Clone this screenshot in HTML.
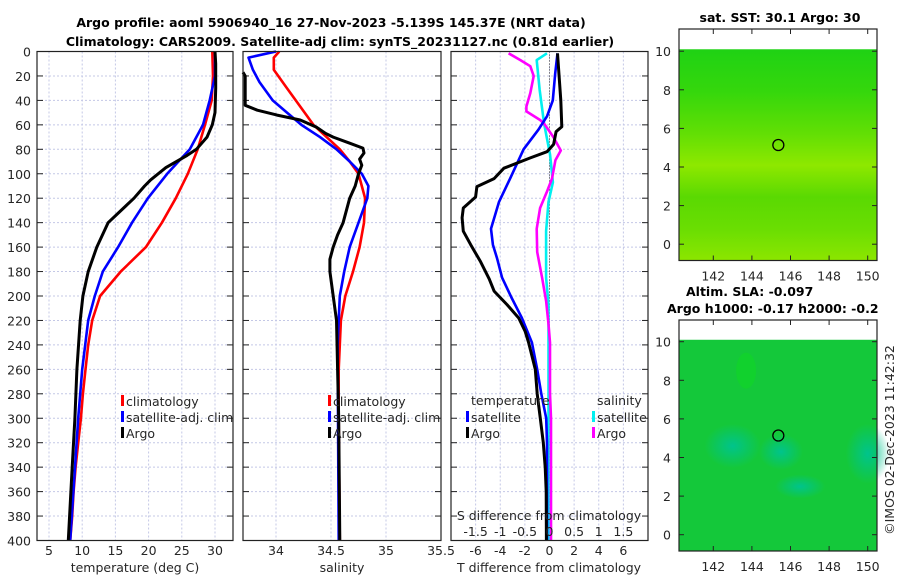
<!DOCTYPE html>
<html><head><meta charset="utf-8"><style>
body{margin:0;background:#fff}
svg{display:block;font-family:"DejaVu Sans","Liberation Sans",sans-serif}
.t{font-size:12.5px;fill:#262626}
.b{font-size:12.5px;font-weight:bold;fill:#000}
</style></head><body>
<svg id="c" width="900" height="580" viewBox="0 0 900 580">
<defs>
<linearGradient id="sstg" x1="0" y1="0" x2="0" y2="1">
<stop offset="0" stop-color="#1fd214"/><stop offset="0.2" stop-color="#35d70c"/>
<stop offset="0.4" stop-color="#62df04"/><stop offset="0.55" stop-color="#8ee800"/>
<stop offset="0.7" stop-color="#5ad902"/><stop offset="0.85" stop-color="#6ade02"/>
<stop offset="1" stop-color="#8ce600"/></linearGradient>
<radialGradient id="teal"><stop offset="0" stop-color="#00c48c"/><stop offset="1" stop-color="#00c48c" stop-opacity="0"/></radialGradient>
</defs>
<text class="b" x="331" y="27" text-anchor="middle">Argo profile: aoml 5906940_16 27-Nov-2023 -5.139S 145.37E (NRT data)</text>
<text class="b" x="340" y="46" text-anchor="middle">Climatology: CARS2009. Satellite-adj clim: synTS_20231127.nc (0.81d earlier)</text>
<g id="plots"></g>
</svg>
<script>
// ---- data ----
const depthTicks=[0,20,40,60,80,100,120,140,160,180,200,220,240,260,280,300,320,340,360,380,400];
const tempTicks=[5,10,15,20,25,30];
const salTicks=[34,34.5,35,35.5];
const dTTicks=[-6,-4,-2,0,2,4,6];
const dSTicks=[-1.5,-1,-0.5,0,0.5,1,1.5];
const tClimD=[0,20,40,60,80,100,120,140,160,180,200,220,240,260,280,300,320,340,360,380,400];
const tClimV=[29.6,29.7,29.5,28.5,27.4,25.9,24.1,22,19.6,15.8,12.7,11.5,10.9,10.5,10.1,9.8,9.4,9.0,8.7,8.5,8.2];
const tSatD=[0,20,40,60,80,100,120,140,160,180,200,220,260,300,400];
const tSatV=[30,30,29.2,28.2,26.2,22.8,19.9,17.5,15.4,13.1,11.9,10.9,10,9.4,8.2];
const tArgoD=[0,10,30,50,60,70,80,85,95,105,110,120,140,160,180,200,220,260,300,340,400];
const tArgoV=[30,30.1,30.1,30.0,29.6,28.8,27.2,25.8,22.6,20.3,19.4,17.8,13.9,12.2,10.9,10.1,9.7,9.2,8.9,8.5,7.9];
const sClimD=[0,5,15,30,45,60,70,80,90,100,110,120,140,160,180,200,220,260,300,400];
const sClimV=[34.03,33.98,33.98,34.1,34.22,34.34,34.46,34.58,34.67,34.75,34.78,34.81,34.8,34.76,34.7,34.63,34.59,34.57,34.57,34.58];
const sSatD=[0,5,15,25,40,50,60,70,80,90,100,110,120,140,160,180,200,240,400];
const sSatV=[34.0,33.75,33.79,33.85,33.97,34.1,34.23,34.4,34.55,34.67,34.78,34.84,34.83,34.75,34.67,34.62,34.58,34.56,34.57];
const sArgoD=[17,20,44,48,52,56,62,67,70,75,79,83,88,93,100,110,120,140,150,160,170,180,200,220,260,300,400];
const sArgoV=[33.7,33.72,33.72,33.83,34.01,34.22,34.37,34.45,34.52,34.67,34.79,34.8,34.76,34.78,34.75,34.72,34.67,34.61,34.56,34.52,34.49,34.49,34.52,34.55,34.56,34.57,34.58];
const dTArgoD=[1.5,40,61.5,65.5,76,82,87,95.5,104,110.5,119,128,136,147,158,172,186,196,207,218,229,238,260,280,300,320,340,360,400];
const dTArgoV=[0.65,0.92,1.0,0.54,0.33,-0.2,-1.56,-3.7,-4.5,-5.9,-6.0,-7.0,-7.1,-7.0,-6.4,-5.6,-4.9,-4.5,-3.45,-2.5,-1.97,-1.7,-1.15,-1.0,-0.75,-0.5,-0.35,-0.27,-0.25];
const dTSatD=[1.5,18,40,53,64,80,104,123,145,158,169,185,202,218,238,260,280,300,320,400];
const dTSatV=[0.65,0.46,0.27,-0.2,-0.9,-2.1,-3.2,-4.1,-4.75,-4.6,-4.26,-3.85,-3.05,-2.24,-1.43,-1.0,-0.67,-0.27,-0.2,-0.2];
const dSArgoD=[1.5,7,12,20,34,45,49,56,59,70,81,89,104,114.5,128,145,164,185,204,223,238,280,300,400];
const dSArgoV=[-0.83,-0.59,-0.39,-0.32,-0.39,-0.47,-0.47,-0.19,-0.11,0.08,0.23,0.12,0.05,-0.05,-0.19,-0.26,-0.25,-0.15,-0.07,-0.02,0.01,0.01,0.03,0.03];
const dSSatD=[1.5,7,31,59,84,107,123,147,185,207,240,400];
const dSSatV=[-0.05,-0.26,-0.2,-0.11,0.01,0.07,-0.02,-0.07,-0.07,-0.02,-0.02,-0.02];
const mapXTicks=[142,144,146,148,150];
const mapYTicks=[0,2,4,6,8,10];
const argoLon=145.37, argoLat=5.139;
// ---- helpers ----
const NS='http://www.w3.org/2000/svg';
const root=document.getElementById('plots');
function mk(tag,at,parent){const e=document.createElementNS(NS,tag);for(const k in at)e.setAttribute(k,at[k]);(parent||root).appendChild(e);return e;}
function lin(d0,d1,r0,r1){return v=>r0+(v-d0)*(r1-r0)/(d1-d0);}
const Y0=51.5,Y1=540.5;
const yD=lin(0,400,Y0,Y1);
const panels=[
 {x0:37,x1:233,sx:lin(5,30,49,215),ticks:tempTicks,name:'temperature-panel'},
 {x0:243,x1:441,sx:lin(34,35,276,386),ticks:salTicks,name:'salinity-panel'},
 {x0:451,x1:648,sx:lin(-8,8,451,648),ticks:dTTicks,name:'difference-panel'}];
panels.forEach((p,i)=>{
 const g=mk('g',{});
 
 
 depthTicks.forEach(d=>{const l=mk('line',{x1:p.x0,x2:p.x1,y1:yD(d),y2:yD(d),stroke:'#c4c8e6','stroke-width':1,'stroke-dasharray':'2,2'},g);
  
  mk('line',{x1:p.x0,x2:p.x0+6,y1:yD(d),y2:yD(d),stroke:'#222'},g);mk('line',{x1:p.x1,x2:p.x1-6,y1:yD(d),y2:yD(d),stroke:'#222'},g);});
 p.ticks.forEach(t=>{const x=p.sx(t);if(x>p.x0+1&&x<p.x1-1){const l=mk('line',{x1:x,x2:x,y1:Y0,y2:Y1,stroke:'#c4c8e6','stroke-dasharray':'2,2'},g);
  }
  const tl=mk('text',{x:x,y:555,'text-anchor':'middle',class:'t'},g);tl.textContent=String(t);
  });
 p.g=g;
});
depthTicks.forEach(d=>{const t=mk('text',{x:31,y:yD(d)+5,'text-anchor':'end',class:'t'});t.textContent=d;
 });
function series(p,D,V,col,name,w){const pts=D.map((d,i)=>p.sx(V[i]).toFixed(1)+','+yD(d).toFixed(1)).join(' ');
 const l=mk('polyline',{points:pts,fill:'none',stroke:col,'stroke-width':w||2.6,'stroke-linejoin':'round'});
 }
const P3S=lin(-2,2,451,648);
mk('line',{x1:P3S(0),x2:P3S(0),y1:Y0,y2:Y1,stroke:'#333','stroke-dasharray':'1,2'});
series(panels[0],tClimD,tClimV,'#ff0000','temp-climatology-line');
series(panels[0],tSatD,tSatV,'#0000ff','temp-satellite-line');
series(panels[0],tArgoD,tArgoV,'#000','temp-argo-line',3);
series(panels[1],sClimD,sClimV,'#ff0000','sal-climatology-line');
series(panels[1],sSatD,sSatV,'#0000ff','sal-satellite-line');
series(panels[1],sArgoD,sArgoV,'#000','sal-argo-line',3);
const p3s={sx:P3S};
series(p3s,dSSatD,dSSatV,'#00f0f0','s-diff-satellite-line');
series(p3s,dSArgoD,dSArgoV,'#ff00ff','s-diff-argo-line');
series(panels[2],dTSatD,dTSatV,'#0000ff','t-diff-satellite-line');
series(panels[2],dTArgoD,dTArgoV,'#000','t-diff-argo-line',3);
panels.forEach(p=>{const r=mk('rect',{x:p.x0,y:Y0,width:p.x1-p.x0,height:Y1-Y0,fill:'none',stroke:'#222','stroke-width':1.2});
 });
dSTicks.forEach(t=>{const tl=mk('text',{x:P3S(t),y:536,'text-anchor':'middle',class:'t'});tl.textContent=String(t);
 });
function lbl(x,y,s,name,anchor,extra){const t=mk('text',Object.assign({x:x,y:y,'text-anchor':anchor||'start',class:'t'},extra||{}));t.textContent=s;
 return t;}
lbl(549,520,'S difference from climatology','s-diff-axis-title','middle');
lbl(135,572,'temperature (deg C)','temp-axis-title','middle');
lbl(342,572,'salinity','salinity-axis-title','middle');
lbl(549,572,'T difference from climatology','t-diff-axis-title','middle');
function leg(x,y,col,s,name){mk('rect',{x:x,y:y-11,width:3,height:11,fill:col});lbl(x+5,y,s,name);}
leg(121,406,'#ff0000','climatology','legend-climatology');
leg(121,422,'#0000ff','satellite-adj. clim','legend-satellite');
leg(121,438,'#000','Argo','legend-argo');
leg(328,406,'#ff0000','climatology','legend-sal-climatology');
leg(328,422,'#0000ff','satellite-adj. clim','legend-sal-satellite');
leg(328,438,'#000','Argo','legend-sal-argo');
lbl(471,405,'temperature','legend-temperature-heading');
lbl(597,405,'salinity','legend-salinity-heading');
leg(466,422,'#0000ff','satellite','legend-t-satellite');
leg(466,438,'#000','Argo','legend-t-argo');
leg(592,422,'#00f0f0','satellite','legend-s-satellite');
leg(592,438,'#ff00ff','Argo','legend-s-argo');
// ---- maps ----
function map(top,bot,name,kind){
 const x0=679,x1=877;
 const sx=lin(142,150,713.3,867.7);
 const sy=lin(0,10,bot-16.3,bot-16.3-193);
 const g=mk('g',{});
 const imgTop=sy(10.1);
 if(kind==='sst'){mk('rect',{x:x0,y:imgTop,width:x1-x0,height:bot-imgTop,fill:'url(#sstg)'},g);}
 else{mk('rect',{x:x0,y:imgTop,width:x1-x0,height:bot-imgTop,fill:'#14c83a'},g);
  [[143,4.6,28,22],[145.5,4.3,22,18],[150,4.2,22,30],[146.5,2.5,25,12]].forEach(e=>mk('ellipse',{cx:sx(e[0]),cy:sy(e[1]),rx:e[2],ry:e[3],fill:'url(#teal)'},g));
  mk('ellipse',{cx:sx(143.7),cy:sy(8.5),rx:10,ry:18,fill:'#10d428',opacity:0.7},g);}
 const c=mk('circle',{cx:sx(argoLon),cy:sy(argoLat),r:5.5,fill:'none',stroke:'#000','stroke-width':1.3},g);
 
 mapXTicks.forEach(t=>{mk('line',{x1:sx(t),x2:sx(t),y1:bot,y2:bot-5,stroke:'#222'},g);mk('line',{x1:sx(t),x2:sx(t),y1:top,y2:top+5,stroke:'#222'},g);
  lbl(sx(t),bot+20,String(t),'map-x-tick-label','middle');});
 mapYTicks.forEach(t=>{mk('line',{x1:x0,x2:x0+5,y1:sy(t),y2:sy(t),stroke:'#222'},g);mk('line',{x1:x1,x2:x1-5,y1:sy(t),y2:sy(t),stroke:'#222'},g);
  lbl(671,sy(t)+5,String(t),'map-y-tick-label','end');});
 mk('rect',{x:x0,y:top,width:x1-x0,height:bot-top,fill:'none',stroke:'#222','stroke-width':1.2},g);
}
map(29,260.5,'sst-map','sst');
map(320,551,'sla-map','sla');
const t1=mk('text',{x:780,y:22,'text-anchor':'middle',class:'b'});t1.textContent='sat. SST: 30.1 Argo: 30';

const t2=mk('text',{x:686,y:296,'text-anchor':'start',class:'b'});t2.textContent='Altim. SLA: -0.097';

const t3=mk('text',{x:667,y:313,'text-anchor':'start',class:'b'});t3.textContent='Argo h1000: -0.17 h2000: -0.2';

lbl(894,440,'©IMOS 02-Dec-2023 11:42:32','imos-timestamp','middle',{transform:'rotate(-90 894 440)'});
</script>
</body></html>
